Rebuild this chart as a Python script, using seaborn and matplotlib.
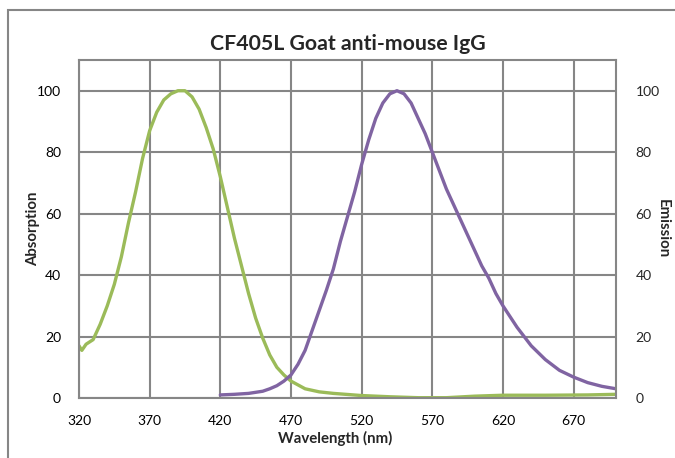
import pandas as pd
import matplotlib
matplotlib.use('Agg')
import matplotlib.pyplot as plt
import seaborn as sns
from matplotlib.patches import Rectangle

# absorption spectrum (green)
abs_nm = [320, 322, 325, 330, 335, 340, 345, 350, 355, 360, 365, 370, 375, 380, 385,
          390, 395, 400, 405, 410, 415, 420, 425, 430, 435, 440, 445, 450, 455, 460,
          465, 470, 480, 490, 500, 520, 540, 560, 580, 600, 620, 650, 680, 700]
abs_val = [17, 15.5, 17.5, 19, 24, 30, 37, 46, 57, 67, 78, 87, 93, 97, 99,
           100, 100, 98, 94, 88, 81, 72, 62, 52, 43, 34, 26, 19.5, 14, 10,
           7.5, 5.5, 3, 2, 1.5, 0.8, 0.4, 0.1, 0.1, 0.6, 0.9, 0.9, 1, 1.2]

# emission spectrum (purple)
em_nm = [420, 430, 440, 450, 455, 460, 465, 470, 475, 480, 485, 490, 495, 500, 505,
         510, 515, 520, 525, 530, 535, 540, 545, 550, 555, 560, 565, 570, 575, 580,
         585, 590, 595, 600, 605, 610, 615, 620, 625, 630, 635, 640, 650, 660, 670,
         680, 690, 700]
em_val = [1, 1.2, 1.5, 2.2, 3, 4, 5.5, 7.5, 11, 15.5, 22, 28.5, 35, 42, 51,
          59, 67, 76, 84, 91, 96, 99, 100, 99, 96, 91, 86, 80, 74, 68,
          63, 58, 53, 48, 43, 39, 34, 30, 26.5, 23, 20, 17, 12.5, 9, 6.8,
          5, 3.8, 3]

x_ticks = [320, 370, 420, 470, 520, 570, 620, 670]
y_ticks = [0, 20, 40, 60, 80, 100]

df_abs = pd.DataFrame({'nm': abs_nm, 'val': abs_val})
df_em = pd.DataFrame({'nm': em_nm, 'val': em_val})

sns.set_theme(style="white")
plt.rcParams['font.family'] = ['Lato', 'DejaVu Sans']

grid_c = '#868686'
fig = plt.figure(figsize=(6.75, 4.58), dpi=100)
ax = fig.add_axes([79/675, 1 - 398/458, (616 - 79)/675, (398 - 60)/458])

sns.lineplot(data=df_abs, x='nm', y='val', ax=ax, color='#9BBB59', linewidth=2.4)
sns.lineplot(data=df_em, x='nm', y='val', ax=ax, color='#8064A2', linewidth=2.4)

ax.set_xlim(320, 700)
ax.set_ylim(0, 110)
ax.set_xticks(x_ticks)
ax.set_yticks(y_ticks)
ax.grid(True, color=grid_c, linewidth=1.5)
ax.set_axisbelow(True)
for s in ax.spines.values():
    s.set_color(grid_c)
    s.set_linewidth(1.5)
ax.tick_params(axis='both', length=0, labelsize=10, colors='black')
ax.tick_params(axis='y', pad=13)
ax.tick_params(axis='x', pad=12)
ax.set_xlabel('')
ax.set_ylabel('')
ax.set_title('CF405L Goat anti-mouse IgG', fontsize=15.3, fontweight='bold', pad=7)

ax2 = ax.twinx()
ax2.set_ylim(0, 110)
ax2.set_yticks(y_ticks)
ax2.tick_params(axis='y', length=0, labelsize=10, pad=14)
for s in ax2.spines.values():
    s.set_visible(False)

# axis titles placed like the original chart
fig.text(335/675, 1 - 438/458, 'Wavelength (nm)', fontsize=10.8, fontweight='bold',
         ha='center', va='center')
fig.text(33/675, 1 - 229/458, 'Absorption', fontsize=10.8, fontweight='bold',
         rotation=90, ha='center', va='center')
fig.text(663/675, 1 - 229/458, 'Emission', fontsize=10.8, fontweight='bold',
         rotation=270, ha='center', va='center')

# outer chart frame
fig.patches.append(Rectangle((8/675, -0.1), 1.2, 1 - 10/458 + 0.1, transform=fig.transFigure,
                             fill=False, edgecolor=grid_c, linewidth=1.5))

fig.savefig('out.png', dpi=100)
